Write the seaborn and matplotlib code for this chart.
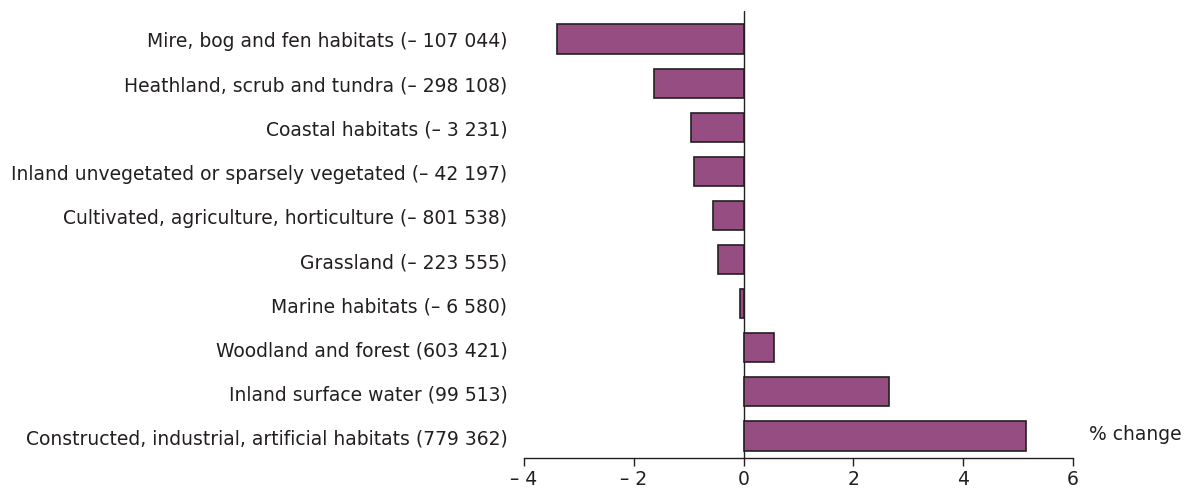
import pandas as pd
import seaborn as sns
import matplotlib.pyplot as plt

#%% data
habitats = [
    'Mire, bog and fen habitats (\u2013 107 044)',
    'Heathland, scrub and tundra (\u2013 298 108)',
    'Coastal habitats (\u2013 3 231)',
    'Inland unvegetated or sparsely vegetated (\u2013 42 197)',
    'Cultivated, agriculture, horticulture (\u2013 801 538)',
    'Grassland (\u2013 223 555)',
    'Marine habitats (\u2013 6 580)',
    'Woodland and forest (603 421)',
    'Inland surface water (99 513)',
    'Constructed, industrial, artificial habitats (779 362)',
]
pct_change = [-3.39, -1.64, -0.95, -0.91, -0.55, -0.46, -0.06, 0.56, 2.64, 5.14]
xticks = [-4, -2, 0, 2, 4, 6]
xticklabels = ['\u2013 4', '\u2013 2', '0', '2', '4', '6']

df = pd.DataFrame({'Habitat': habitats, 'Change': pct_change})

#%% plot
sns.set_style('white')
plt.rcParams['font.family'] = ['DejaVu Sans']

fig = plt.figure(figsize=(11.95, 4.89), dpi=100)
ax = fig.add_axes([0.4385, 0.0613, 0.4594, 0.9142])

sns.barplot(data=df, x='Change', y='Habitat', orient='h', color='#954d82',
            saturation=1, width=0.66, edgecolor='#231f20', linewidth=1.2, ax=ax)

ax.set_xlim(-4, 6)
ax.set_ylim(9.5, -0.635)
ax.set_xticks(xticks)
ax.set_xticklabels(xticklabels, fontsize=13.5, color='#231f20')
ax.tick_params(axis='x', bottom=True, direction='out', length=6, width=1,
               color='#231f20', pad=2)
ax.tick_params(axis='y', left=False, length=0, labelsize=13.5,
               labelcolor='#231f20', pad=12)
ax.set_xlabel('')
ax.set_ylabel('')

for s in ['top', 'right', 'left']:
    ax.spines[s].set_visible(False)
ax.spines['bottom'].set_color('#231f20')
ax.spines['bottom'].set_linewidth(1)
ax.axvline(0, color='#231f20', linewidth=1, zorder=0.5)

ax.text(1.03, 0.033, '% change', transform=ax.transAxes, fontsize=13.5,
        color='#231f20', ha='left', va='bottom')

fig.savefig('out.png', dpi=100)
